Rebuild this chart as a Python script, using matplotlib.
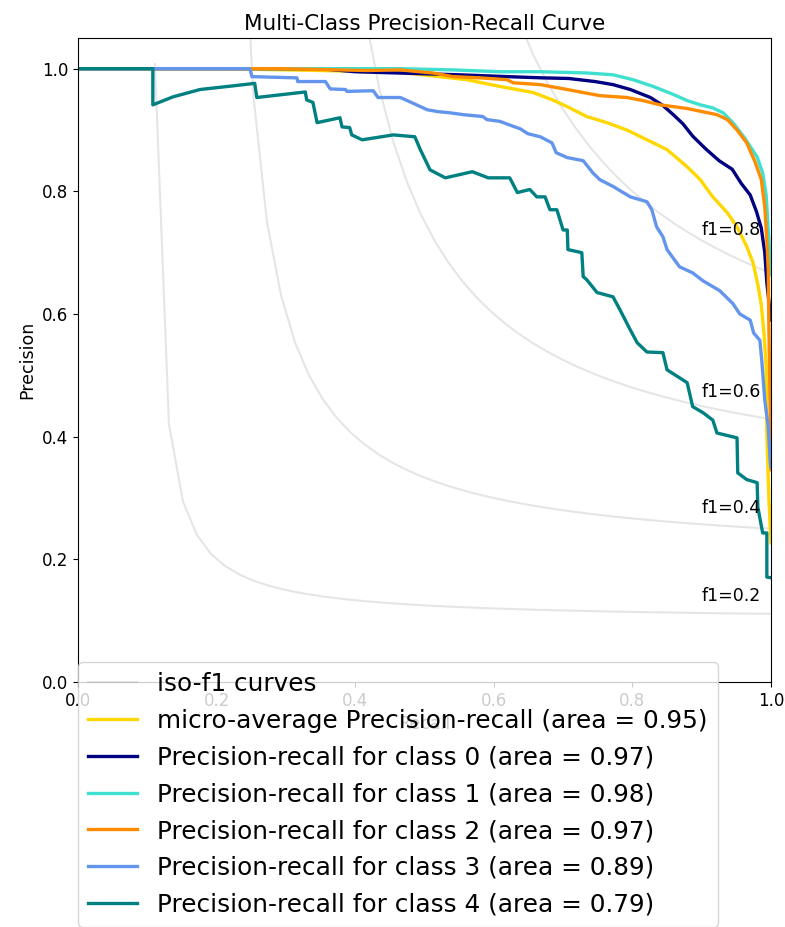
import numpy as np
import matplotlib
matplotlib.use('Agg')
import matplotlib.pyplot as plt

# iso-f1 levels
f_scores = [0.2, 0.4, 0.6, 0.8]

# micro-average curve
micro_recall = [0, 0.20, 0.35, 0.465, 0.561, 0.609, 0.657, 0.685, 0.706, 0.734, 0.763, 0.792,
                0.821, 0.850, 0.879, 0.898, 0.916, 0.937, 0.951, 0.965, 0.974, 0.981, 0.986,
                0.990, 0.993, 0.994, 0.997, 1.0]
micro_precision = [1.0, 1.0, 0.997, 0.994, 0.982, 0.971, 0.961, 0.949, 0.938, 0.922, 0.912, 0.900,
                   0.884, 0.868, 0.840, 0.819, 0.791, 0.765, 0.742, 0.710, 0.684, 0.648, 0.615,
                   0.566, 0.514, 0.406, 0.297, 0.227]

# class 0
recall_0 = [0, 0.35, 0.40, 0.55, 0.62, 0.67, 0.708, 0.746, 0.772, 0.797, 0.826, 0.844, 0.859,
            0.873, 0.887, 0.906, 0.925, 0.944, 0.957, 0.970, 0.979, 0.986, 0.991, 0.994, 0.997, 1.0]
precision_0 = [1.0, 1.0, 0.995, 0.990, 0.987, 0.985, 0.984, 0.979, 0.974, 0.966, 0.953, 0.940, 0.925,
               0.910, 0.890, 0.869, 0.850, 0.836, 0.813, 0.794, 0.767, 0.740, 0.700, 0.651, 0.620, 0.590]

# class 1
recall_1 = [0, 0.465, 0.541, 0.609, 0.667, 0.734, 0.772, 0.801, 0.830, 0.859, 0.879, 0.898, 0.916,
            0.931, 0.945, 0.962, 0.980, 0.988, 0.993, 0.996, 0.999, 1.0]
precision_1 = [1.0, 1.0, 0.998, 0.995, 0.995, 0.993, 0.990, 0.982, 0.971, 0.958, 0.948, 0.941, 0.936,
               0.928, 0.912, 0.887, 0.856, 0.830, 0.794, 0.737, 0.688, 0.664]

# class 2
recall_2 = [0, 0.25, 0.291, 0.417, 0.465, 0.512, 0.541, 0.580, 0.619, 0.628, 0.667, 0.706, 0.753,
            0.792, 0.815, 0.840, 0.879, 0.922, 0.937, 0.951, 0.965, 0.977, 0.986, 0.991, 0.994,
            0.996, 0.997, 0.999, 1.0]
precision_2 = [1.0, 1.0, 1.0, 0.997, 0.998, 0.993, 0.987, 0.985, 0.982, 0.977, 0.974, 0.966, 0.956,
               0.953, 0.948, 0.941, 0.935, 0.925, 0.917, 0.900, 0.879, 0.848, 0.819, 0.775, 0.721,
               0.672, 0.574, 0.427, 0.346]

# class 3
recall_3 = [0, 0.248, 0.251, 0.316, 0.317, 0.357, 0.364, 0.386, 0.388, 0.426, 0.433, 0.465, 0.475,
            0.504, 0.519, 0.537, 0.556, 0.584, 0.590, 0.609, 0.628, 0.638, 0.649, 0.667, 0.684,
            0.690, 0.706, 0.729, 0.743, 0.753, 0.772, 0.797, 0.821, 0.828, 0.835, 0.844, 0.850,
            0.868, 0.887, 0.902, 0.926, 0.945, 0.955, 0.970, 0.975, 0.984, 0.987, 0.991, 0.996,
            0.999, 1.0]
precision_3 = [1.0, 1.0, 0.987, 0.985, 0.979, 0.979, 0.967, 0.966, 0.963, 0.964, 0.953, 0.953, 0.948,
               0.933, 0.930, 0.928, 0.925, 0.922, 0.917, 0.914, 0.906, 0.902, 0.894, 0.889, 0.879,
               0.863, 0.855, 0.850, 0.830, 0.819, 0.808, 0.791, 0.783, 0.770, 0.742, 0.726, 0.705,
               0.677, 0.667, 0.654, 0.638, 0.617, 0.600, 0.590, 0.569, 0.557, 0.520, 0.460, 0.416,
               0.357, 0.350]

# class 4
recall_4 = [0, 0.108, 0.108, 0.137, 0.176, 0.224, 0.255, 0.258, 0.328, 0.330, 0.339, 0.345, 0.378,
            0.381, 0.392, 0.395, 0.410, 0.455, 0.486, 0.494, 0.508, 0.530, 0.569, 0.592, 0.623,
            0.634, 0.652, 0.662, 0.674, 0.681, 0.691, 0.700, 0.706, 0.707, 0.727, 0.729, 0.734,
            0.749, 0.772, 0.782, 0.797, 0.807, 0.821, 0.844, 0.850, 0.879, 0.887, 0.902, 0.916,
            0.922, 0.951, 0.952, 0.965, 0.980, 0.981, 0.988, 0.994, 0.994, 1.0]
precision_4 = [1.0, 1.0, 0.941, 0.954, 0.966, 0.972, 0.976, 0.953, 0.962, 0.949, 0.945, 0.912, 0.920,
               0.905, 0.904, 0.892, 0.884, 0.892, 0.889, 0.868, 0.835, 0.822, 0.832, 0.822, 0.822,
               0.798, 0.803, 0.791, 0.791, 0.770, 0.770, 0.737, 0.737, 0.705, 0.700, 0.661, 0.656,
               0.635, 0.628, 0.607, 0.574, 0.553, 0.538, 0.537, 0.509, 0.488, 0.449, 0.439, 0.427,
               0.406, 0.398, 0.341, 0.330, 0.325, 0.285, 0.243, 0.243, 0.171, 0.170]

class_recalls = [recall_0, recall_1, recall_2, recall_3, recall_4]
class_precisions = [precision_0, precision_1, precision_2, precision_3, precision_4]
class_areas = [0.97, 0.98, 0.97, 0.89, 0.79]
micro_area = 0.95
colors = ['navy', 'turquoise', 'darkorange', 'cornflowerblue', 'teal']

fig = plt.figure(figsize=(7.85, 9.27), dpi=100)
ax = fig.add_axes([78 / 785, 1 - 682 / 927, 693 / 785, 644 / 927])

lines = []
labels = []
for f_score in f_scores:
    x = np.linspace(0.01, 1)
    y = f_score * x / (2 * x - f_score)
    l, = ax.plot(x[y >= 0], y[y >= 0], color='gray', alpha=0.2, lw=1.5)
    ax.annotate('f1={0:0.1f}'.format(f_score), xy=(0.9, y[45] + 0.02), fontsize=12.5)

lines.append(l)
labels.append('iso-f1 curves')

l, = ax.plot(micro_recall, micro_precision, color='gold', lw=2.4)
lines.append(l)
labels.append('micro-average Precision-recall (area = {0:0.2f})'.format(micro_area))

for i, color in enumerate(colors):
    l, = ax.plot(class_recalls[i], class_precisions[i], color=color, lw=2.4)
    lines.append(l)
    labels.append('Precision-recall for class {0} (area = {1:0.2f})'.format(i, class_areas[i]))

ax.set_xlim([0.0, 1.0])
ax.set_ylim([0.0, 1.05])
ax.set_xticks([0, 0.2, 0.4, 0.6, 0.8, 1.0])
ax.set_yticks([0, 0.2, 0.4, 0.6, 0.8, 1.0])
ax.tick_params(labelsize=12)
ax.set_xlabel('Recall', fontsize=12.5)
ax.set_ylabel('Precision', fontsize=12.5)
ax.set_title('Multi-Class Precision-Recall Curve', fontsize=15.5)
ax.legend(lines, labels, loc=(0, -.38), prop=dict(size=17.8), labelspacing=0.52)

fig.savefig('out.png', dpi=100)
